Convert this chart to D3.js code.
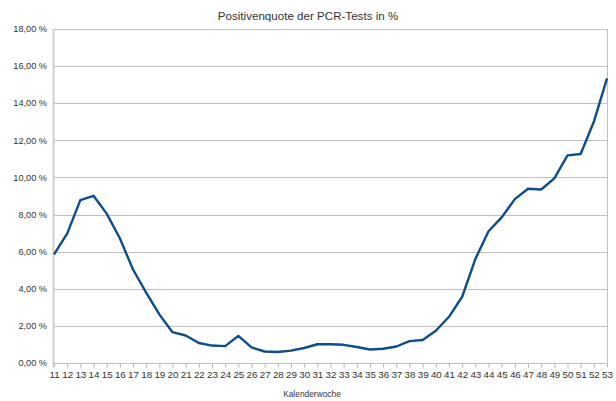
<!DOCTYPE html>
<html>
<head>
<meta charset="utf-8">
<script src="https://cdn.jsdelivr.net/npm/d3@7"></script>
<style>
  body { margin: 0; background: #fff; }
  text { font-family: "Liberation Sans", Arial, sans-serif; }
</style>
</head>
<body>
<script>
// calendar weeks and positive rate (%)
var weeks = [11, 12, 13, 14, 15, 16, 17, 18, 19, 20, 21, 22, 23, 24, 25, 26, 27, 28, 29, 30, 31, 32,
             33, 34, 35, 36, 37, 38, 39, 40, 41, 42, 43, 44, 45, 46, 47, 48, 49, 50, 51, 52, 53];
var rates = [5.85, 6.97, 8.78, 9.01, 8.05, 6.72, 5.04, 3.79, 2.62, 1.66, 1.48, 1.08, 0.94, 0.91, 1.46,
             0.84, 0.62, 0.59, 0.67, 0.81, 1.01, 1.01, 0.98, 0.86, 0.73, 0.77, 0.89, 1.18, 1.24, 1.74,
             2.49, 3.57, 5.6, 7.1, 7.85, 8.83, 9.39, 9.35, 9.95, 11.19, 11.26, 13.0, 15.34];
var yTicks = [0, 2, 4, 6, 8, 10, 12, 14, 16, 18];

var width = 616, height = 401;
var margin = {top: 29, right: 9, bottom: 38, left: 54};

var svg = d3.select("body").append("svg")
    .attr("width", width)
    .attr("height", height);

var x = d3.scalePoint()
    .domain(weeks)
    .range([margin.left, width - margin.right]);

var y = d3.scaleLinear()
    .domain([0, 18])
    .range([height - margin.bottom, margin.top]);

// horizontal gridlines
svg.append("g")
  .selectAll("line")
  .data(yTicks)
  .enter().append("line")
    .attr("x1", margin.left)
    .attr("x2", width - margin.right)
    .attr("y1", function(d) { return Math.round(y(d)) + 0.5; })
    .attr("y2", function(d) { return Math.round(y(d)) + 0.5; })
    .attr("stroke", "#c0c0c0")
    .attr("stroke-width", 1);

// right border
svg.append("line")
    .attr("x1", width - margin.right + 0.5)
    .attr("x2", width - margin.right + 0.5)
    .attr("y1", margin.top)
    .attr("y2", height - margin.bottom)
    .attr("stroke", "#c0c0c0");

// y axis labels
svg.append("g")
  .selectAll("text")
  .data(yTicks)
  .enter().append("text")
    .attr("x", margin.left - 7)
    .attr("y", function(d) { return y(d); })
    .attr("dy", "0.35em")
    .attr("text-anchor", "end")
    .attr("font-size", "9.2px")
    .attr("fill", "#333")
    .text(function(d) { return d3.format(".2f")(d).replace(".", ",") + " %"; });

// x axis with downward ticks
var xAxis = svg.append("g")
    .attr("transform", "translate(0," + (Math.round(y(0)) + 0.5) + ")")
    .call(d3.axisBottom(x).tickSize(4).tickPadding(4));
xAxis.select(".domain").remove();
xAxis.selectAll(".tick line").attr("stroke", "#b3b3b3");
xAxis.selectAll(".tick text")
    .attr("font-size", "9.8px")
    .attr("font-family", "Liberation Sans, Arial, sans-serif")
    .attr("fill", "#333");

// left axis line
svg.append("line")
    .attr("x1", margin.left - 0.5)
    .attr("x2", margin.left - 0.5)
    .attr("y1", margin.top)
    .attr("y2", y(0) + 4)
    .attr("stroke", "#d0d0d0")
    .attr("stroke-width", 2);

// the line
var line = d3.line()
    .x(function(d, i) { return x(weeks[i]); })
    .y(function(d) { return y(d); });

svg.append("path")
    .datum(rates)
    .attr("fill", "none")
    .attr("stroke", "#0e4d8c")
    .attr("stroke-width", 2.4)
    .attr("stroke-linejoin", "round")
    .attr("d", line);

// title
svg.append("text")
    .attr("x", 308)
    .attr("y", 20)
    .attr("text-anchor", "middle")
    .attr("font-size", "11.6px")
    .attr("fill", "#333")
    .text("Positivenquote der PCR-Tests in %");

// x axis title
svg.append("text")
    .attr("x", 312)
    .attr("y", 397)
    .attr("text-anchor", "middle")
    .attr("font-size", "8.4px")
    .attr("fill", "#333")
    .text("Kalenderwoche");
</script>
</body>
</html>
